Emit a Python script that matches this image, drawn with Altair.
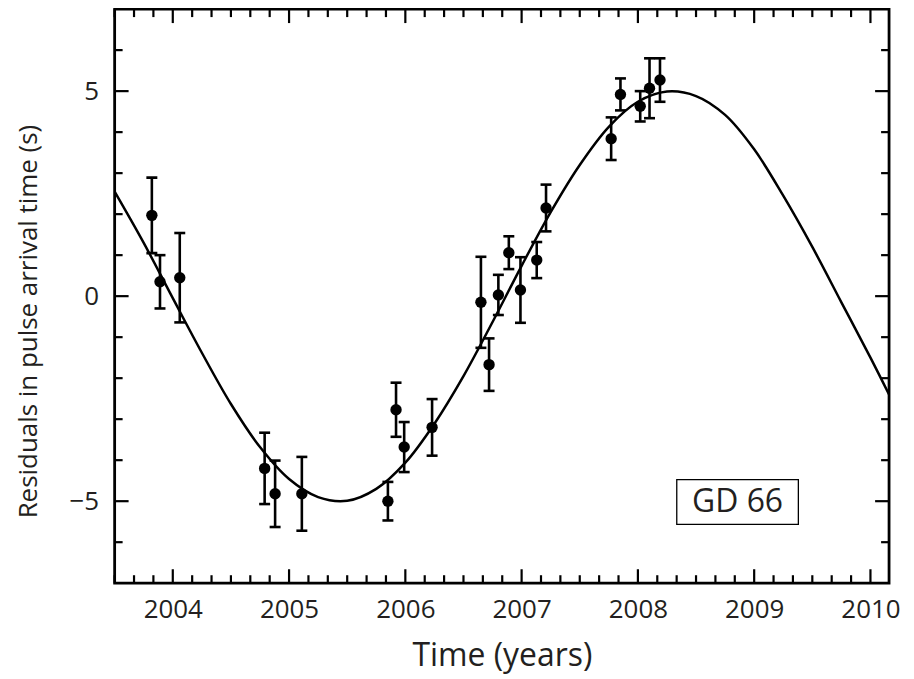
import altair as alt
import pandas as pd

# ---- data ----
obs_time = [2003.82, 2003.89, 2004.06, 2004.79, 2004.88, 2005.11, 2005.85, 2005.92,
            2005.99, 2006.23, 2006.65, 2006.72, 2006.80, 2006.89, 2006.99, 2007.13,
            2007.21, 2007.77, 2007.85, 2008.02, 2008.10, 2008.19]
obs_resid = [1.97, 0.35, 0.45, -4.20, -4.82, -4.82, -5.00, -2.77,
             -3.68, -3.20, -0.15, -1.67, 0.03, 1.06, 0.15, 0.88,
             2.15, 3.84, 4.92, 4.63, 5.07, 5.27]
obs_err = [0.92, 0.65, 1.09, 0.87, 0.81, 0.90, 0.47, 0.66,
           0.61, 0.69, 1.11, 0.64, 0.49, 0.40, 0.80, 0.44,
           0.57, 0.52, 0.39, 0.37, 0.73, 0.53]

fit_time = [2003.50, 2003.75, 2004.00, 2004.25, 2004.50, 2004.75, 2005.00, 2005.25,
            2005.50, 2005.75, 2006.00, 2006.25, 2006.50, 2006.75, 2007.00, 2007.25,
            2007.50, 2007.75, 2008.00, 2008.25, 2008.50, 2008.75, 2009.00, 2009.25,
            2009.50, 2009.75, 2010.00, 2010.16]
fit_resid = [2.55, 1.30, -0.05, -1.38, -2.63, -3.68, -4.46, -4.90,
             -4.99, -4.70, -4.06, -3.11, -1.95, -0.63, 0.74, 2.05,
             3.20, 4.13, 4.74, 4.99, 4.88, 4.42, 3.58, 2.45,
             1.20, -0.15, -1.50, -2.40]

x_major = [2004, 2005, 2006, 2007, 2008, 2009, 2010]
x_minor = [round(y + m / 6, 4) for y in range(2003, 2011) for m in range(1, 6)
           if 2003.5 <= y + m / 6 <= 2010.16]
y_major = [-5, 0, 5]
y_minor = [-6, -4, -3, -2, -1, 1, 2, 3, 4, 6]
label_text = ["GD 66"]

# ---- layout ----
W, H = 777, 576
FONT = "Open Sans"
INK = "#231f20"
MAJ, MIN = 14, 8

obs = pd.DataFrame({"t": obs_time, "y": obs_resid, "e": obs_err})
fit = pd.DataFrame({"t": fit_time, "y": fit_resid})

xs = alt.Scale(domain=[2003.5, 2010.16], nice=False, zero=False)
ys = alt.Scale(domain=[-7, 7], nice=False, zero=False)
xaxis = alt.Axis(values=x_major, format="d", ticks=False, tickSize=0, domain=False, grid=False,
                 labelFontSize=26, labelPadding=13, labelFont=FONT, labelColor=INK,
                 titleFont=FONT, titleFontSize=32, titleFontWeight="normal",
                 titleColor=INK, titlePadding=19)
yaxis = alt.Axis(values=y_major, format="d", ticks=False, tickSize=0, domain=False, grid=False,
                 labelFontSize=26, labelPadding=16, labelFont=FONT, labelColor=INK,
                 titleFont=FONT, titleFontSize=26, titleFontWeight="normal",
                 titleColor=INK, titlePadding=28, titleY=313)
XT = "Time (years)"
YT = "Residuals in pulse arrival time (s)"


def X(f):
    return alt.X(f, type="quantitative", scale=xs, axis=xaxis, title=XT)


def Y(f):
    return alt.Y(f, type="quantitative", scale=ys, axis=yaxis, title=YT)


curve = alt.Chart(fit).mark_line(color="black", strokeWidth=2.5, clip=True,
                                 interpolate="catmull-rom").encode(x=X("t"), y=Y("y"))

base = alt.Chart(obs).transform_calculate(lo="datum.y - datum.e", hi="datum.y + datum.e")
bars = base.mark_rule(color="black", strokeWidth=2.6, opacity=1).encode(
    x=X("t"), y=Y("lo"), y2="hi:Q")
cap_lo = base.mark_tick(color="black", thickness=2.6, size=11, orient="horizontal",
                        opacity=1).encode(x=X("t"), y=Y("lo"))
cap_hi = base.mark_tick(color="black", thickness=2.6, size=11, orient="horizontal",
                        opacity=1).encode(x=X("t"), y=Y("hi"))
dots = base.mark_point(filled=True, color="black", opacity=1, size=130, shape="circle").encode(
    x=X("t"), y=Y("y"))

xmaj = pd.DataFrame({"v": x_major})
xmin = pd.DataFrame({"v": x_minor})
ymaj = pd.DataFrame({"v": y_major})
ymin = pd.DataFrame({"v": y_minor})


def xticks(df, L):
    bot = alt.Chart(df).mark_rule(color="black", strokeWidth=2.2).encode(
        x=X("v"), y=alt.value(H), y2=alt.value(H - L))
    top = alt.Chart(df).mark_rule(color="black", strokeWidth=2.2).encode(
        x=X("v"), y=alt.value(0), y2=alt.value(L))
    return [bot, top]


def yticks(df, L):
    lft = alt.Chart(df).mark_rule(color="black", strokeWidth=2.2).encode(
        y=Y("v"), x=alt.value(0), x2=alt.value(L))
    rgt = alt.Chart(df).mark_rule(color="black", strokeWidth=2.2).encode(
        y=Y("v"), x=alt.value(W), x2=alt.value(W - L))
    return [lft, rgt]


lab = pd.DataFrame({"label": label_text})
box = alt.Chart(lab).mark_rect(fill="white", stroke="black", strokeWidth=1.3).encode(
    x=alt.value(564), x2=alt.value(686), y=alt.value(472), y2=alt.value(517))
txt = alt.Chart(lab).mark_text(font=FONT, fontSize=32, color=INK, baseline="middle",
                               align="center").encode(
    x=alt.value(625), y=alt.value(495), text="label:N")

layers = ([curve, bars, cap_lo, cap_hi, dots] + xticks(xmaj, MAJ) + xticks(xmin, MIN)
          + yticks(ymaj, MAJ) + yticks(ymin, MIN) + [box, txt])

chart = alt.layer(*layers).properties(
    width=W, height=H,
    padding={"left": 7, "top": -2, "right": 5, "bottom": 4},
).configure(background="white").configure_view(stroke="black", strokeWidth=2.8)

chart.save("out.html", embed_options={"renderer": "svg", "actions": False})
